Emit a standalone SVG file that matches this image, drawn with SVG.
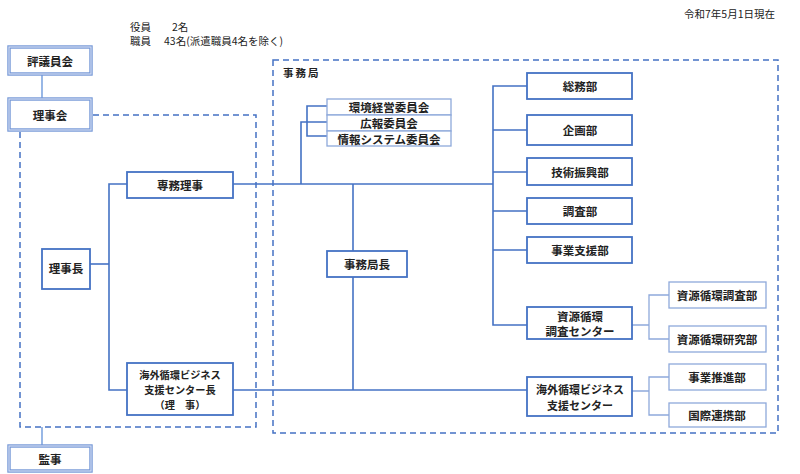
<svg xmlns="http://www.w3.org/2000/svg" width="800" height="474" viewBox="0 0 800 474">
<style>
text{font-family:"Noto Sans CJK JP","Noto Sans",sans-serif;fill:#222;}
.t{font-size:11.5px;font-weight:bold;text-anchor:middle;dominant-baseline:central;}
.s{font-size:10.5px;}
.box{fill:#fff;stroke:#4472C4;stroke-width:1.8;}
.sub{fill:#fff;stroke:#8EA9DB;stroke-width:1.3;}
.dbl1{fill:#fff;stroke:#7396D6;stroke-width:3.4;}
.dbl2{fill:none;stroke:#D3DDF2;stroke-width:1.2;}
.dash{fill:none;stroke:#4472C4;stroke-width:1.5;stroke-dasharray:6,4;}
.ln{fill:none;stroke:#4472C4;stroke-width:1.6;}
.lnl{fill:none;stroke:#8EA9DB;stroke-width:1.3;}
.lnv{fill:none;stroke:#7FA6E0;stroke-width:1.6;}
</style>
<rect width="800" height="474" fill="#fff"/>
<text class="s" x="775" y="18" text-anchor="end">令和7年5月1日現在</text>
<text class="s" x="130" y="31">役員</text>
<text class="s" x="172" y="31">2名</text>
<text class="s" x="130" y="45">職員</text>
<text class="s" x="164" y="45">43名(派遣職員4名を除く)</text>

<g id="groups">
<path class="dash" d="M93,115 H256 V427 H20 V131"/>
<rect class="dash" x="273" y="60" width="505" height="373"/>
<text x="283" y="77" style="font-size:10.5px;font-weight:bold;letter-spacing:2px">事務局</text>
</g>

<g id="connectors">
<path class="lnv" d="M42,74 V99"/>
<path class="lnv" d="M42,427 V446"/>
<path class="ln" d="M90,264 H109"/>
<path class="ln" d="M127,184 H109 V390 H127"/>
<path class="ln" d="M233,184 H493"/>
<path class="ln" d="M233,390 H527"/>
<path class="ln" d="M353,184 V251"/>
<path class="ln" d="M353,277 V390"/>
<path class="ln" d="M301,184 V122 H327"/>
<path class="ln" d="M327,106 H307 V136 H327"/>
<path class="ln" d="M527,86 H493 V325 H527"/>
<path class="ln" d="M493,130 H527 M493,172 H527 M493,211 H527 M493,250 H527"/>
<path class="lnl" d="M632,325 H649 M669,295 H649 V339 H669"/>
<path class="lnl" d="M632,391 H649 M669,377 H649 V415 H669"/>
</g>

<g id="n-hyogiinkai"><rect class="dbl1" x="9" y="47" width="82" height="27"/><rect class="dbl2" x="9" y="47" width="82" height="27"/><text class="t" x="50" y="60.5">評議員会</text></g>
<g id="n-rijikai"><rect class="dbl1" x="9" y="99" width="82" height="31"/><rect class="dbl2" x="9" y="99" width="82" height="31"/><text class="t" x="50" y="115">理事会</text></g>
<g id="n-kanji"><rect class="dbl1" x="9" y="446" width="82" height="25"/><rect class="dbl2" x="9" y="446" width="82" height="25"/><text class="t" x="50" y="458.5">監事</text></g>

<g id="n-rijicho"><rect class="box" x="42" y="249" width="48" height="40"/><text class="t" x="66" y="268">理事長</text></g>
<g id="n-senmu"><rect class="box" x="127" y="172" width="106" height="26"/><text class="t" x="180" y="185">専務理事</text></g>
<g id="n-kaigaicho"><rect class="box" x="127" y="363" width="106" height="52"/>
<text class="t" x="180" y="374" style="font-size:10.2px">海外循環ビジネス</text>
<text class="t" x="180" y="389" style="font-size:10.2px">支援センター長</text>
<text class="t" x="180" y="404" style="font-size:10.2px">（理　事）</text></g>

<g id="n-kankyo"><rect class="sub" x="327" y="99" width="124" height="16"/><text class="t" x="389" y="107">環境経営委員会</text></g>
<g id="n-koho"><rect class="sub" x="327" y="115" width="124" height="16"/><text class="t" x="389" y="123">広報委員会</text></g>
<g id="n-joho"><rect class="sub" x="327" y="131" width="124" height="15"/><text class="t" x="389" y="138.5">情報システム委員会</text></g>

<g id="n-jimukyokucho"><rect class="box" x="327" y="251" width="80" height="26"/><text class="t" x="367" y="264">事務局長</text></g>

<g id="n-somu"><rect class="box" x="527" y="73" width="105" height="26"/><text class="t" x="580" y="86">総務部</text></g>
<g id="n-kikaku"><rect class="box" x="527" y="115" width="105" height="30"/><text class="t" x="580" y="130">企画部</text></g>
<g id="n-gijutsu"><rect class="box" x="527" y="158" width="105" height="27"/><text class="t" x="580" y="172">技術振興部</text></g>
<g id="n-chosa"><rect class="box" x="527" y="198" width="105" height="26"/><text class="t" x="580" y="211">調査部</text></g>
<g id="n-jigyo"><rect class="box" x="527" y="237" width="105" height="26"/><text class="t" x="580" y="250">事業支援部</text></g>
<g id="n-shigen"><rect class="box" x="527" y="307" width="105" height="32"/><text class="t" x="580" y="315.5">資源循環</text><text class="t" x="580" y="331">調査センター</text></g>
<g id="n-kaigai"><rect class="box" x="527" y="377" width="105" height="39"/><text class="t" x="580" y="388.5" style="font-size:11px">海外循環ビジネス</text><text class="t" x="580" y="404.5" style="font-size:11px">支援センター</text></g>

<g id="n-shigenchosa"><rect class="sub" x="669" y="282" width="97" height="26"/><text class="t" x="717" y="295">資源循環調査部</text></g>
<g id="n-shigenkenkyu"><rect class="sub" x="669" y="326" width="97" height="26"/><text class="t" x="717" y="339">資源循環研究部</text></g>
<g id="n-jigyosuishin"><rect class="sub" x="669" y="364" width="97" height="26"/><text class="t" x="717" y="377">事業推進部</text></g>
<g id="n-kokusai"><rect class="sub" x="669" y="403" width="97" height="24"/><text class="t" x="717" y="415">国際連携部</text></g>
</svg>
